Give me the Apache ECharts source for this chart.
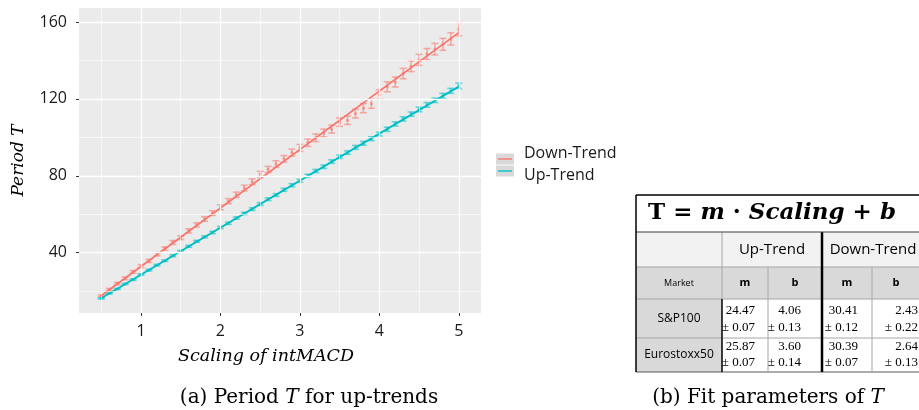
<!DOCTYPE html>
<html><head><meta charset="utf-8">
<script src="https://cdn.jsdelivr.net/npm/echarts@6/dist/echarts.min.js"></script>
<style>html,body{margin:0;padding:0;background:#fff}#c{width:919px;height:410px}</style>
</head><body><div id="c"></div>
<script>
// ---------- data ----------
const scaling = [0.5,0.6,0.7,0.8,0.9,1.0,1.1,1.2,1.3,1.4,1.5,1.6,1.7,1.8,1.9,2.0,2.1,2.2,2.3,2.4,2.5,2.6,2.7,2.8,2.9,3.0,3.1,3.2,3.3,3.4,3.5,3.6,3.7,3.8,3.9,4.0,4.1,4.2,4.3,4.4,4.5,4.6,4.7,4.8,4.9,5.0];
const downTrend = [17.5,20.8,23.9,26.6,30.0,33.0,35.7,39.2,42.1,45.3,47.8,51.3,54.4,57.5,60.6,63.6,66.8,70.1,73.6,76.9,80.7,83.3,86.1,88.8,92.1,94.5,97.2,99.8,102.3,104.3,107.9,108.9,112.4,115.2,117.5,122.3,126.3,128.8,133.2,137.0,140.3,143.3,145.9,148.4,151.2,156.3];
const downErr = [0.5,0.6,0.6,0.7,0.7,0.8,0.8,0.9,0.9,1.0,1.0,1.1,1.1,1.2,1.2,1.3,1.3,1.4,1.5,1.5,1.6,1.6,1.7,1.7,1.8,1.8,1.9,2.0,2.0,2.1,2.2,2.2,2.3,2.4,2.4,2.5,2.6,2.6,2.7,2.8,2.9,2.9,3.0,3.1,3.2,3.5];
const upTrend = [16.2,18.8,21.1,23.7,26.0,28.6,30.9,33.5,35.8,38.4,40.7,43.3,45.9,48.2,50.5,53.1,55.3,58.0,60.4,62.7,65.3,67.8,70.0,72.7,75.1,77.4,80.0,82.5,84.7,87.4,89.9,92.1,94.8,96.9,99.3,101.7,104.2,107.0,109.6,112.1,114.5,116.9,119.3,121.6,124.2,126.8];
const upErr = [0.3,0.3,0.3,0.3,0.4,0.4,0.4,0.4,0.4,0.5,0.5,0.5,0.5,0.5,0.6,0.6,0.6,0.6,0.6,0.7,0.7,0.7,0.7,0.8,0.8,0.8,0.8,0.8,0.9,0.9,0.9,0.9,1.0,1.0,1.0,1.0,1.1,1.1,1.1,1.1,1.2,1.2,1.2,1.3,1.3,1.4];
const fitX = [0.5, 5.0];
const downFit = [17.6, 154.5];
const upFit = [16.3, 126.4];
const xTicks = [1,2,3,4,5];
const xMinor = [0.5,1.5,2.5,3.5,4.5];
const yTicks = [40,80,120,160];
const yMinor = [20,60,100,140];
const seriesNames = ['Down-Trend','Up-Trend'];
const xTitle = 'Scaling of intMACD';
const yTitle = 'Period T';

const tableGroups = ['Up-Trend','Down-Trend'];
const tableHeader = ['Market','m','b','m','b'];
const markets = ['S&P100','Eurostoxx50'];
const fitValues = [['24.47','4.06','30.41','2.43'],['25.87','3.60','30.39','2.64']];
const fitErrors = [['0.07','0.13','0.12','0.22'],['0.07','0.14','0.07','0.13']];

// ---------- styles / layout ----------
const RED = '#F8766D', CYAN = '#00BFC4';
const sans = '"Open Sans", "DejaVu Sans", sans-serif';
const serif = '"DejaVu Serif", serif';
const tSerif = '"Liberation Serif", serif';

function errRender(color){
  return function(params, api){
    const x = api.value(0), y = api.value(1), e = api.value(2);
    const t = api.coord([x, y + e]), b = api.coord([x, y - e]), c = api.coord([x, y]);
    const hw = 3.5;
    const st = {stroke: color, lineWidth: 1.6, opacity: 0.55};
    return {type:'group', children:[
      {type:'line', shape:{x1:t[0],y1:t[1],x2:b[0],y2:b[1]}, style:st},
      {type:'line', shape:{x1:t[0]-hw,y1:t[1],x2:t[0]+hw,y2:t[1]}, style:st},
      {type:'line', shape:{x1:b[0]-hw,y1:b[1],x2:b[0]+hw,y2:b[1]}, style:st},
      {type:'circle', shape:{cx:c[0],cy:c[1],r:1.6}, style:{fill:color, opacity:0.6}}
    ]};
  };
}

// ---------- table graphic ----------
const tX = [636, 722, 768, 822, 872, 975];
const tY = [195, 232, 267, 299, 338, 372];
const g = [];
const rect = (x,y,w,h,fill)=>g.push({type:'rect', shape:{x,y,width:w,height:h}, style:{fill}, silent:true});
const hl = (x1,x2,y,c,w)=>g.push({type:'line', shape:{x1,y1:y,x2,y2:y}, style:{stroke:c,lineWidth:w}, silent:true});
const vl = (x,y1,y2,c,w)=>g.push({type:'line', shape:{x1:x,y1,x2:x,y2}, style:{stroke:c,lineWidth:w}, silent:true});
const txt = (x,y,text,font,extra)=>g.push(Object.assign({type:'text', x, y, style:Object.assign({text, align:'center', verticalAlign:'middle', fill:'#000', font}, extra||{}), silent:true}));

rect(tX[0], tY[1], tX[5]-tX[0], tY[2]-tY[1], '#F2F2F2');
rect(tX[0], tY[2], tX[5]-tX[0], tY[3]-tY[2], '#D9D9D9');
rect(tX[0], tY[3], tX[1]-tX[0], tY[5]-tY[3], '#D9D9D9');
hl(tX[0], tX[5], tY[2], '#A6A6A6', 1);
hl(tX[0], tX[5], tY[3], '#A6A6A6', 1);
hl(tX[0], tX[5], tY[4], '#A6A6A6', 1);
hl(tX[0], tX[5], tY[5], '#595959', 1);
vl(tX[1], tY[1], tY[3], '#A6A6A6', 1);
vl(tX[1], tY[3], tY[5], '#000', 1.5);
vl(tX[2], tY[2], tY[5], '#A6A6A6', 1);
vl(tX[4], tY[2], tY[5], '#A6A6A6', 1);
vl(tX[3], tY[1], tY[5], '#000', 2.5);
hl(tX[0], tX[5], tY[0], '#000', 1.5);
hl(tX[0], tX[5], tY[1], '#404040', 1);
vl(tX[0], tY[0], tY[5], '#000', 1.5);

// title
g.push({type:'text', x:772, y:213, silent:true, style:{
  text:'{r|T}{o| = }{i|m}{o| · }{i|Scaling}{o| + }{i|b}', align:'center', verticalAlign:'middle',
  rich:{
    r:{font:'bold 23px ' + serif, fill:'#000'},
    o:{font:'bold 23px ' + serif, fill:'#000'},
    i:{font:'italic bold 23px ' + serif, fill:'#000'}
  }}});
txt(772, 250, tableGroups[0], '15px ' + sans);
txt(873, 250, tableGroups[1], '15px ' + sans);
txt(679, 283, tableHeader[0], '9px ' + sans);
const hCenters = [745, 795, 847, 896];
for (let j = 0; j < 4; j++) txt(hCenters[j], 283, tableHeader[j+1], 'bold 11px ' + sans);
const rowCenters = [319, 355];
const valRight = [755, 801, 858, 918];
const valY = [[311, 328], [347, 363]];
for (let i = 0; i < markets.length; i++) {
  txt(679, rowCenters[i], markets[i], '12px ' + sans);
  for (let j = 0; j < 4; j++) {
    txt(valRight[j], valY[i][0], fitValues[i][j], '13px ' + tSerif, {align:'right'});
    txt(valRight[j], valY[i][1], '\u00B1 ' + fitErrors[i][j], '13px ' + tSerif, {align:'right'});
  }
}

// legend
const legY = [159, 171];
const legColors = [RED, CYAN];
const legTextY = [153, 175];
for (let k = 0; k < 2; k++) {
  rect(496, legY[k]-5.5, 18, 11, '#D9D9D9');
  g.push({type:'line', silent:true, shape:{x1:498,y1:legY[k],x2:512,y2:legY[k]}, style:{stroke:legColors[k], lineWidth:1.5, opacity:0.9}});
  txt(524, legTextY[k], seriesNames[k], '16px ' + sans, {align:'left', fill:'#1a1a1a'});
}

// captions
g.push({type:'text', x:309, y:398, silent:true, style:{text:'(a) Period {i|T} for up-trends', align:'center', verticalAlign:'middle', font:'20px ' + serif, fill:'#000', rich:{i:{font:'italic 20px ' + serif, fill:'#000'}}}});
g.push({type:'text', x:768, y:398, silent:true, style:{text:'(b) Fit parameters of {i|T}', align:'center', verticalAlign:'middle', font:'20px ' + serif, fill:'#000', rich:{i:{font:'italic 20px ' + serif, fill:'#000'}}}});

// ---------- chart ----------
const chart = echarts.init(document.getElementById('c'), null, {renderer:'canvas'});
const gridLines = [].concat(
  xMinor.map(v=>({xAxis:v, lineStyle:{width:0.6}})),
  xTicks.map(v=>({xAxis:v, lineStyle:{width:1.3}})),
  yMinor.map(v=>({yAxis:v, lineStyle:{width:0.6}})),
  yTicks.map(v=>({yAxis:v, lineStyle:{width:1.3}}))
);
chart.setOption({
  animation:false,
  grid:{left:79, top:8, width:402, height:305, show:true, backgroundColor:'#EBEBEB', borderWidth:0},
  xAxis:{type:'value', min:0.22, max:5.28,
    axisLine:{show:false}, splitLine:{show:false},
    axisTick:{show:true, length:3, lineStyle:{color:'#333'}, customValues:xTicks},
    axisLabel:{margin:10, color:'#1a1a1a', fontSize:16, fontFamily:sans, customValues:xTicks},
    name:xTitle, nameLocation:'middle', nameGap:34,
    nameTextStyle:{fontFamily:serif, fontStyle:'italic', fontSize:17.5, color:'#000', padding:[0, 28, 0, 0]}},
  yAxis:{type:'value', min:8.6, max:167.3,
    axisLine:{show:false}, splitLine:{show:false},
    axisTick:{show:true, length:3, lineStyle:{color:'#333'}, customValues:yTicks},
    axisLabel:{margin:12, color:'#1a1a1a', fontSize:16, fontFamily:sans, customValues:yTicks},
    name:yTitle, nameLocation:'middle', nameGap:52,
    nameTextStyle:{fontFamily:serif, fontStyle:'italic', fontSize:17, color:'#000'}},
  series:[
    {name:'grid', type:'line', data:[], z:1, silent:true,
      markLine:{silent:true, symbol:'none', label:{show:false}, animation:false,
        lineStyle:{color:'#FFFFFF', type:'solid'}, data:gridLines}},
    {name:seriesNames[0]+' err', type:'custom', z:3, renderItem:errRender(RED),
      data:scaling.map((x,i)=>[x, downTrend[i], downErr[i]])},
    {name:seriesNames[1]+' err', type:'custom', z:3, renderItem:errRender(CYAN),
      data:scaling.map((x,i)=>[x, upTrend[i], upErr[i]])},
    {name:seriesNames[0], type:'line', z:4, showSymbol:false, lineStyle:{color:RED, width:1.8},
      data:fitX.map((x,i)=>[x, downFit[i]])},
    {name:seriesNames[1], type:'line', z:4, showSymbol:false, lineStyle:{color:CYAN, width:1.8},
      data:fitX.map((x,i)=>[x, upFit[i]])}
  ],
  graphic:g
});
</script></body></html>
